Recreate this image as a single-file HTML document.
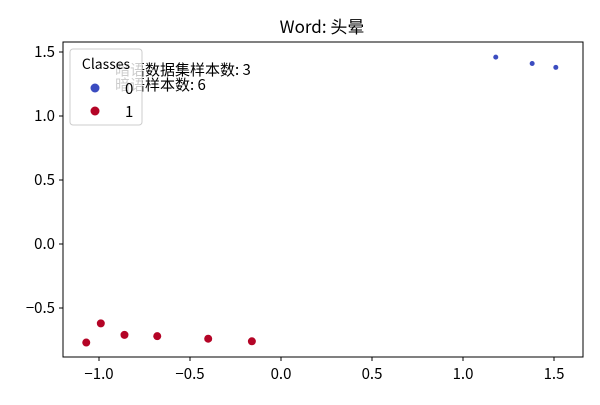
<!DOCTYPE html>
<html><head><meta charset="utf-8"><style>
body{margin:0;background:#fff}
svg text{font-family:"WenQuanYi Zen Hei","Noto Sans CJK SC",sans-serif}
</style></head><body>
<svg width="600" height="400" id="c">
<rect width="600" height="400" fill="#fff"/>
<text x="322" y="33" font-size="17" text-anchor="middle">Word: 头晕</text>
<text x="115" y="75" font-size="15">暗语数据集样本数: 3</text>
<text x="115" y="90" font-size="15">暗语样本数: 6</text>
<g id="marks"></g>
<g id="axes"></g>
<rect x="63" y="42" width="520" height="315" fill="none" stroke="#000"/>
<g>
<rect x="70" y="49" width="72" height="76" rx="3" fill="#fff" fill-opacity="0.8" stroke="#ccc"/>
<text x="106" y="69" font-size="14" text-anchor="middle">Classes</text>
<circle cx="95" cy="88" r="4.5" fill="#3b4cc0"/>
<text x="125" y="94" font-size="15">0</text>
<circle cx="95" cy="111" r="4.5" fill="#b40426"/>
<text x="125" y="117" font-size="15">1</text>
</g>
</svg>
<script>
const xs0=[1.18,1.38,1.51];
const ys0=[1.46,1.41,1.38];
const xs1=[-1.07,-0.99,-0.86,-0.68,-0.40,-0.16];
const ys1=[-0.77,-0.62,-0.71,-0.72,-0.74,-0.76];
const xTicks=[-1.0,-0.5,0.0,0.5,1.0,1.5];
const yTicks=[-0.5,0.0,0.5,1.0,1.5];
const NS="http://www.w3.org/2000/svg";
function X(v){return 281+v*182;}
function Y(v){return 244-v*128;}
const m=document.getElementById('marks'),a=document.getElementById('axes');
function dot(x,y,r,c,n){const e=document.createElementNS(NS,'circle');e.setAttribute('cx',X(x));e.setAttribute('cy',Y(y));e.setAttribute('r',r);e.setAttribute('fill',c);


m.appendChild(e);}
xs0.forEach((x,i)=>dot(x,ys0[i],2.5,'#3b4cc0','point-class-0'));
xs1.forEach((x,i)=>dot(x,ys1[i],4,'#b40426','point-class-1'));
function line(x1,y1,x2,y2){const e=document.createElementNS(NS,'line');e.setAttribute('x1',x1);e.setAttribute('y1',y1);e.setAttribute('x2',x2);e.setAttribute('y2',y2);e.setAttribute('stroke','#000');


a.appendChild(e);}
function txt(x,y,s,anc,n){const e=document.createElementNS(NS,'text');e.setAttribute('x',x);e.setAttribute('y',y);e.setAttribute('font-size','15');e.setAttribute('text-anchor',anc);e.textContent=s;


a.appendChild(e);}
xTicks.forEach(v=>{line(X(v),357,X(v),361);txt(X(v),379,v.toFixed(1).replace('-','−'),'middle','x-tick-label');});
yTicks.forEach(v=>{line(59,Y(v),63,Y(v));txt(55,Y(v)+5,v.toFixed(1).replace('-','−'),'end','y-tick-label');});
</script>
</body></html>
